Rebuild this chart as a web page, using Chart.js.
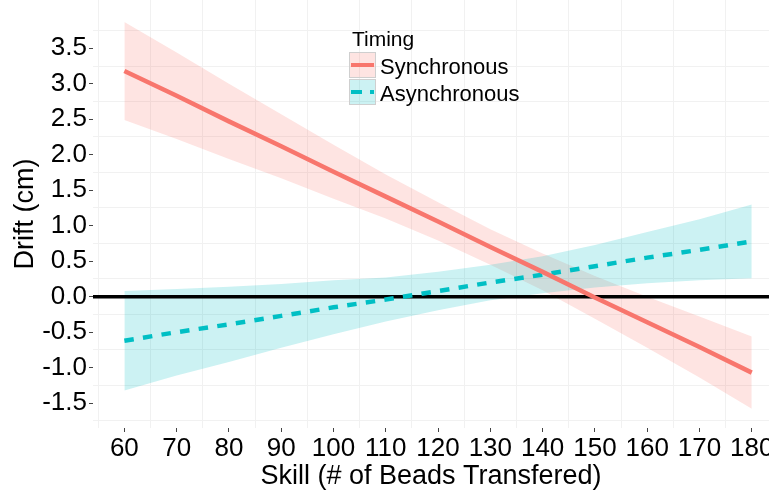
<!DOCTYPE html>
<html>
<head>
<meta charset="utf-8">
<script src="https://cdn.jsdelivr.net/npm/chart.js@4.4.0/dist/chart.umd.min.js"></script>
<style>
  body { margin: 0; background: #fff; }
</style>
</head>
<body>
<canvas id="myChart" width="769" height="490"></canvas>
<script>
// values, one per x tick
const skill = [60, 70, 80, 90, 100, 110, 120, 130, 140, 150, 160, 170, 180]

const syncFit   = [3.18, 2.83, 2.47, 2.12, 1.76, 1.41, 1.06, 0.70, 0.35, -0.01, -0.36, -0.71, -1.07]
const syncUpper = [3.87, 3.44, 3.00, 2.57, 2.14, 1.72, 1.33, 0.95, 0.61, 0.29, 0.00, -0.28, -0.56]
const syncLower = [2.49, 2.22, 1.94, 1.67, 1.38, 1.10, 0.79, 0.45, 0.09, -0.31, -0.72, -1.14, -1.58]

const asyncFit   = [-0.62, -0.50, -0.39, -0.27, -0.15, -0.04, 0.08, 0.20, 0.31, 0.43, 0.55, 0.66, 0.78]
const asyncUpper = [0.08, 0.11, 0.14, 0.18, 0.23, 0.27, 0.35, 0.45, 0.57, 0.73, 0.91, 1.09, 1.30]
const asyncLower = [-1.32, -1.11, -0.92, -0.72, -0.53, -0.35, -0.19, -0.05, 0.05, 0.13, 0.19, 0.23, 0.26]

const xTicks = [60, 70, 80, 90, 100, 110, 120, 130, 140, 150, 160, 170, 180]
const yTicks = [-1.5, -1.0, -0.5, 0.0, 0.5, 1.0, 1.5, 2.0, 2.5, 3.0, 3.5]

const legendTitle = "Timing"
const seriesNames = ["Synchronous", "Asynchronous"]

const xMin = 54, xMax = 183.3
const yMin = -1.85, yMax = 4.18

const RED = '#F8766D'
const CYAN = '#00BFC4'
const RED_FILL = 'rgba(248, 118, 109, 0.2)'
const CYAN_FILL = 'rgba(0, 191, 196, 0.2)'
const FONT = '"Liberation Sans", Arial, sans-serif'

Chart.defaults.font.family = FONT
Chart.defaults.color = '#000'

const pts = (ys) => skill.map((x, i) => ({x: x, y: ys[i]}))

// major ticks plus the half-way ones (those only get the faint grid)
function withMinor(major) {
    const step = major[1] - major[0]
    const out = [major[0] - step / 2]
    major.forEach(v => {
        out.push(v)
        out.push(v + step / 2)
    })
    return out
}
const isMajor = (v, major) => major.some(m => Math.abs(m - v) < 1e-6)

function setTicks(major, lo, hi) {
    return (scale) => {
        scale.ticks = withMinor(major)
            .filter(v => v >= lo && v <= hi)
            .map(v => ({value: v}))
    }
}

function noPad(scale) {
    scale.paddingTop = 0
    scale.paddingBottom = 0
    scale.paddingLeft = 0
    scale.paddingRight = 0
}

const timingLegend = {
    id: 'timingLegend',
    afterDraw(chart) {
        const ctx = chart.ctx
        ctx.save()
        ctx.fillStyle = '#000'
        ctx.textBaseline = 'alphabetic'
        ctx.font = '21px ' + FONT
        ctx.fillText(legendTitle, 352, 46)

        const items = [
            {label: seriesNames[0], color: RED, fill: RED_FILL, dash: []},
            {label: seriesNames[1], color: CYAN, fill: CYAN_FILL, dash: [11, 8]},
        ]
        items.forEach((item, i) => {
            const y = 52 + i * 27
            ctx.fillStyle = item.fill
            ctx.fillRect(349, y, 27, 26)
            ctx.strokeStyle = '#cfcfcf'
            ctx.lineWidth = 1
            ctx.strokeRect(349.5, y + 0.5, 26, 25)
            ctx.strokeStyle = item.color
            ctx.lineWidth = 4
            ctx.setLineDash(item.dash)
            ctx.beginPath()
            ctx.moveTo(351, y + 13)
            ctx.lineTo(374, y + 13)
            ctx.stroke()
            ctx.setLineDash([])
            ctx.fillStyle = '#000'
            ctx.font = '22px ' + FONT
            ctx.fillText(item.label, 380, y + 22)
        })
        ctx.restore()
    }
}

new Chart(document.querySelector('#myChart'), {
    type: 'line',
    data: {
        datasets: [
            {
                label: seriesNames[0],
                data: pts(syncFit),
                borderColor: RED,
                borderWidth: 4.5,
                pointRadius: 0,
                fill: false,
            },
            {
                label: seriesNames[1],
                data: pts(asyncFit),
                borderColor: CYAN,
                borderWidth: 4.5,
                borderDash: [9.5, 9.3],
                pointRadius: 0,
                fill: false,
            },
            {
                label: 'zero',
                data: [{x: xMin, y: 0}, {x: xMax, y: 0}],
                borderColor: '#000',
                borderWidth: 3.5,
                pointRadius: 0,
                fill: false,
            },
            {
                label: 'async upper',
                data: pts(asyncUpper),
                borderWidth: 0,
                borderColor: 'rgba(0,0,0,0)',
                backgroundColor: CYAN_FILL,
                pointRadius: 0,
                fill: '+1',
            },
            {
                label: 'async lower',
                data: pts(asyncLower),
                borderWidth: 0,
                borderColor: 'rgba(0,0,0,0)',
                pointRadius: 0,
                fill: false,
            },
            {
                label: 'sync upper',
                data: pts(syncUpper),
                borderWidth: 0,
                borderColor: 'rgba(0,0,0,0)',
                backgroundColor: RED_FILL,
                pointRadius: 0,
                fill: '+1',
            },
            {
                label: 'sync lower',
                data: pts(syncLower),
                borderWidth: 0,
                borderColor: 'rgba(0,0,0,0)',
                pointRadius: 0,
                fill: false,
            },
        ]
    },
    options: {
        responsive: false,
        animation: false,
        layout: {padding: 0},
        plugins: {
            legend: {display: false},
            tooltip: {enabled: false},
        },
        scales: {
            x: {
                type: 'linear',
                min: xMin,
                max: xMax,
                afterBuildTicks: setTicks(xTicks, xMin, xMax),
                afterFit: (scale) => { scale.height = 62; noPad(scale) },
                border: {display: false},
                grid: {
                    color: (c) => isMajor(c.tick.value, xTicks) ? 'rgba(0,0,0,0)' : '#f1f1f1',
                    tickColor: (c) => isMajor(c.tick.value, xTicks) ? '#444' : 'rgba(0,0,0,0)',
                    tickLength: 4,
                    lineWidth: 1,
                },
                ticks: {
                    autoSkip: false,
                    maxRotation: 0,
                    padding: 1,
                    font: {size: 26},
                    color: '#000',
                    callback: (v) => isMajor(v, xTicks) ? String(v) : '',
                },
                title: {
                    display: true,
                    text: 'Skill (# of Beads Transfered)',
                    font: {size: 27, lineHeight: 1.0},
                    color: '#000',
                    padding: {top: 0, bottom: 0},
                },
            },
            y: {
                type: 'linear',
                min: yMin,
                max: yMax,
                afterBuildTicks: setTicks(yTicks, yMin, yMax),
                afterFit: (scale) => { scale.width = 93; noPad(scale) },
                border: {display: false},
                grid: {
                    color: (c) => isMajor(c.tick.value, yTicks) ? 'rgba(0,0,0,0)' : '#f1f1f1',
                    tickColor: (c) => isMajor(c.tick.value, yTicks) ? '#444' : 'rgba(0,0,0,0)',
                    tickLength: 4,
                    lineWidth: 1,
                },
                ticks: {
                    autoSkip: false,
                    padding: 2,
                    font: {size: 26},
                    color: '#000',
                    callback: (v) => isMajor(v, yTicks) ? v.toFixed(1) : '',
                },
                title: {
                    display: true,
                    text: 'Drift (cm)',
                    font: {size: 27},
                    color: '#000',
                    padding: {top: 9, bottom: 0},
                },
            }
        }
    },
    plugins: [timingLegend]
});
</script>
</body>
</html>
